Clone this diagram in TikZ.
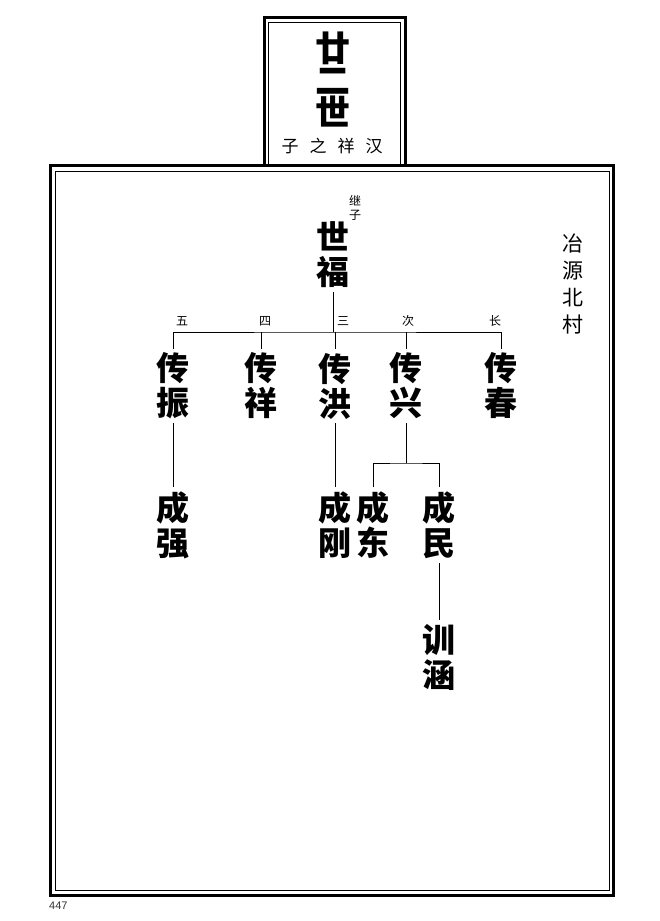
\documentclass[tikz,border=0pt]{standalone}
\usepackage{fontspec}
\setmainfont{Liberation Sans}
\newfontfamily\cjk{Noto Sans CJK SC}
\begin{document}
\begin{tikzpicture}[x=1pt, y=-1pt, line join=miter,
	ming/.style={font=\cjk\bfseries\fontsize{33}{35}\selectfont, align=center, inner sep=4pt},
	hao/.style={font=\cjk\fontsize{12}{14}\selectfont, align=center, inner sep=0pt},
	kuang/.style={line width=3pt},
	xian/.style={line width=0.9pt}]
	\useasboundingbox (0,0) rectangle (659,921);
	\def\xl{50.5} \def\xr{613.5} \def\yt{165.5} \def\yb{895}
	% frames
	\draw[kuang] (\xl,\yt) rectangle (\xr,\yb);
	\draw[xian] (55,171) rectangle (609,890);
	\draw[kuang] (264,\yt) -- (264,17) -- (405.5,17) -- (405.5,\yt);
	\draw[xian] (268.5,\yt) -- (268.5,22.5) -- (400,22.5) -- (400,\yt);
	% heading
	\node[font=\cjk\bfseries\fontsize{35}{32}\selectfont, align=center, inner sep=0pt] (shi) at (333,80) {廿\\二\\世};
	\node[font=\cjk\fontsize{17}{17}\selectfont, inner sep=0pt] (zi) at (332,146) {子\hspace{11pt}之\hspace{11pt}祥\hspace{11pt}汉};
	\node[font=\cjk\fontsize{21}{27}\selectfont, align=center, inner sep=0pt] (cun) at (573,284) {冶\\源\\北\\村};
	\node[font=\fontsize{11}{11}\selectfont, anchor=west, inner sep=0pt, text=black!80] (ye) at (49,906) {447};
	% persons
	\node[hao] (jizi) at (355,208) {继\\子};
	\node[ming] (shifu) at (333,255) {世\\福};
	\path
	(173,386) node[ming] (zhen) {传\\振}
	(261,386) node[ming] (xiang) {传\\祥}
	(335,386) node[ming] (hong) {传\\洪}
	(406,386) node[ming] (xing) {传\\兴}
	(501,386) node[ming] (chun) {传\\春}
	(173,525) node[ming] (qiang) {成\\强}
	(335,525) node[ming] (gang) {成\\刚}
	(373,525) node[ming] (dong) {成\\东}
	(439,525) node[ming] (min) {成\\民}
	(439,657) node[ming] (han) {训\\涵};
	\path
	(182,321) node[hao] (wu) {五}
	(265,321) node[hao] (si) {四}
	(343,321) node[hao] (san) {三}
	(408,321) node[hao] (ci) {次}
	(495,321) node[hao] (zhang) {长};
	% lines
	\coordinate (bar) at (333,332);
	\coordinate (xbar) at (406,463);
	\draw[xian] (shifu) -- (bar);
	\draw[xian] (zhen) |- (bar) -| (chun);
	\foreach \c in {xiang,hong,xing} \draw[xian] (bar -| \c) -- (\c);
	\draw[xian] (zhen) -- (qiang);
	\draw[xian] (hong) -- (gang);
	\draw[xian] (xing) -- (xbar);
	\draw[xian] (dong) |- (xbar) -| (min);
	\draw[xian] (min) -- (han);
\end{tikzpicture}
\end{document}
